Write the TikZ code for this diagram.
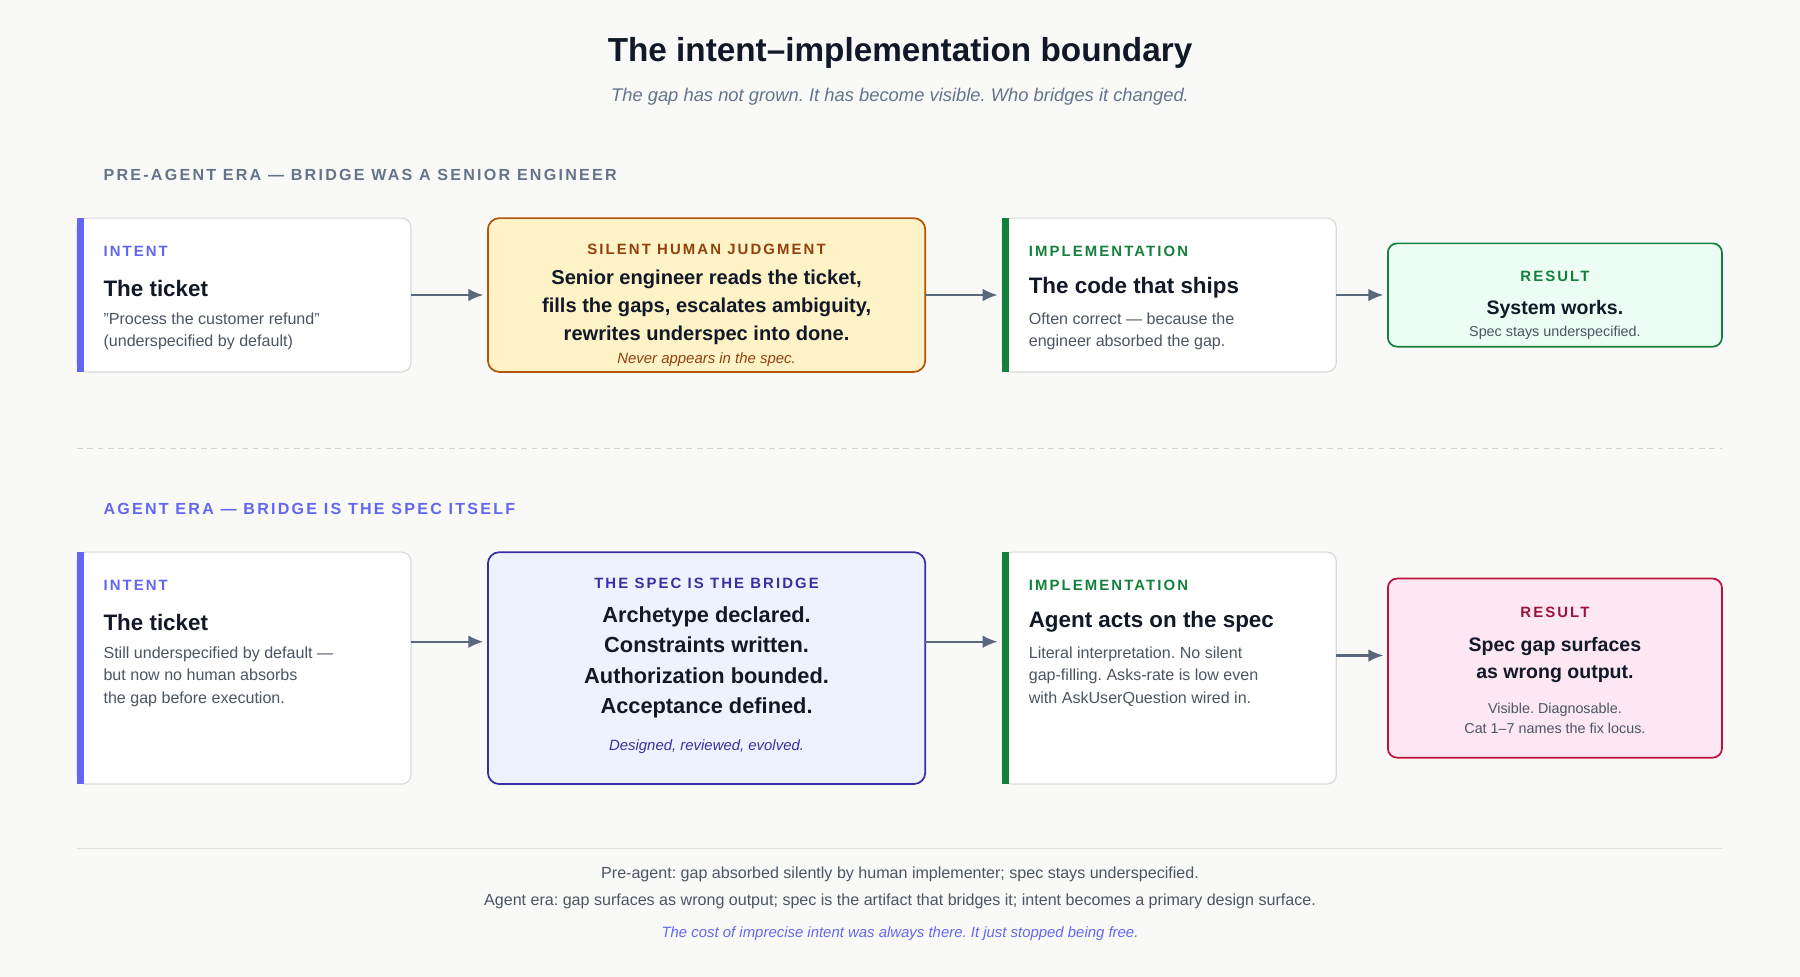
\documentclass[tikz,border=0pt]{standalone}
\usepackage{fontspec}
\setmainfont{Liberation Sans}
\newfontfamily\capsfont[LetterSpace=14]{Liberation Sans}
\usetikzlibrary{arrows.meta,positioning}
\definecolor{bgc}{HTML}{F9FAF7}
\definecolor{ink}{HTML}{111827}
\definecolor{muted}{HTML}{4B5563}
\definecolor{slate}{HTML}{64748B}
\definecolor{violet}{HTML}{6366F1}
\definecolor{navy}{HTML}{3730A3}
\definecolor{grn}{HTML}{15803D}
\definecolor{amber}{HTML}{92400E}
\definecolor{ambline}{HTML}{B45309}
\definecolor{ambfill}{HTML}{FEF3C7}
\definecolor{spfill}{HTML}{EEF2FF}
\definecolor{okfill}{HTML}{ECFDF3}
\definecolor{badfill}{HTML}{FCE7F3}
\definecolor{bad}{HTML}{BE123C}
\definecolor{badtxt}{HTML}{9F1239}
\newcommand{\fs}[1]{\fontsize{#1pt}{\dimexpr #1pt*14/10\relax}\selectfont}
\frenchspacing
\tikzset{
  card/.style={draw=gray!30, line width=1pt, fill=white, rounded corners=8pt},
  tag/.style={anchor=west, inner sep=0pt, font=\capsfont\bfseries\fs{13}},
  head/.style={anchor=west, inner sep=0pt, font=\bfseries\fs{19.5}, text=ink},
  body/.style={anchor=north west, inner sep=0pt, align=left, font=\fs{14}, text=muted},
  flow/.style={-{Latex[length=13pt,width=11pt]}, draw=slate!90!black, line width=1.8pt}
}
\begin{document}
\begin{tikzpicture}[x=1pt,y=-1pt]
\useasboundingbox[fill=bgc] (0,0) rectangle (1568,851);

% Title
\node[font=\bfseries\fs{29}, text=ink] (title) at (784,46) {The intent–implementation boundary};
\node[font=\itshape\fs{16}, text=slate] (subtitle) at (784,84) {The gap has not grown. It has become visible. Who bridges it changed.};

% Pre-agent era
\node[tag, text=slate, font=\capsfont\bfseries\fs{14}] (era1) at (90,152) {PRE-AGENT ERA — BRIDGE WAS A SENIOR ENGINEER};

\draw[card] (67,190) rectangle (358,324);
\fill[violet] (67,190) rectangle (73,324);
\coordinate (int1) at (358,257);
\node[tag, text=violet] (int1tag) at (90,219) {INTENT};
\node[head] (int1head) at (90,251) {The ticket};
\node[body] (int1body) at (90,272) {"Process the customer refund"\\(underspecified by default)};

\draw[draw=ambline, fill=ambfill, line width=1.5pt, rounded corners=10pt] (425,190) rectangle (806,324);
\coordinate (sil) at (425,257);
\coordinate (silR) at (806,257);
\node[tag, anchor=center, text=amber] (siltag) at (615.5,217) {SILENT HUMAN JUDGMENT};
\node[font=\bfseries\fs{17.5}, text=ink, align=center, inner sep=0pt] (silbody) at (615.5,268) {Senior engineer reads the ticket,\\fills the gaps, escalates ambiguity,\\rewrites underspec into done.};
\node[font=\itshape\fs{13}, text=amber] (silnote) at (615.5,313) {Never appears in the spec.};

\draw[card] (873,190) rectangle (1164,324);
\fill[grn] (873,190) rectangle (879,324);
\coordinate (imp1) at (873,257);
\coordinate (imp1R) at (1164,257);
\node[tag, text=grn] (imp1tag) at (896,219) {IMPLEMENTATION};
\node[head] (imp1head) at (896,251) {The code that ships};
\node[body] (imp1body) at (896,272) {Often correct — because the\\engineer absorbed the gap.};

\draw[draw=grn, fill=okfill, line width=1.5pt, rounded corners=8pt] (1209,212) rectangle (1500,302);
\coordinate (res1) at (1209,257);
\node[tag, anchor=center, text=grn] (res1tag) at (1354.5,241) {RESULT};
\node[font=\bfseries\fs{17}, text=ink] (res1head) at (1354.5,270) {System works.};
\node[font=\fs{12.5}, text=muted] (res1body) at (1354.5,290) {Spec stays underspecified.};

\draw[flow] (int1) -- ([xshift=-4pt]sil);
\draw[flow] (silR) -- ([xshift=-4pt]imp1);
\draw[flow] (imp1R) -- ([xshift=-4pt]res1);

% Divider
\draw[gray!35, line width=1pt, dash pattern=on 5pt off 4pt] (67,391) -- (1500,391);

% Agent era
\node[tag, text=violet, font=\capsfont\bfseries\fs{14}] (era2) at (90,443) {AGENT ERA — BRIDGE IS THE SPEC ITSELF};

\draw[card] (67,481) rectangle (358,683);
\fill[violet] (67,481) rectangle (73,683);
\coordinate (int2) at (358,559);
\node[tag, text=violet] (int2tag) at (90,510) {INTENT};
\node[head] (int2head) at (90,542) {The ticket};
\node[body] (int2body) at (90,563) {Still underspecified by default —\\but now no human absorbs\\the gap before execution.};

\draw[draw=navy, fill=spfill, line width=1.5pt, rounded corners=10pt] (425,481) rectangle (806,683);
\coordinate (spec) at (425,559);
\coordinate (specR) at (806,559);
\node[tag, anchor=center, text=navy] (spectag) at (615.5,508) {THE SPEC IS THE BRIDGE};
\node[font=\bfseries\fs{19}, text=ink, align=center, inner sep=0pt] (specbody) at (615.5,577) {Archetype declared.\\Constraints written.\\Authorization bounded.\\Acceptance defined.};
\node[font=\itshape\fs{13}, text=navy] (specnote) at (615.5,650) {Designed, reviewed, evolved.};

\draw[card] (873,481) rectangle (1164,683);
\fill[grn] (873,481) rectangle (879,683);
\coordinate (imp2) at (873,559);
\coordinate (imp2R) at (1164,571);
\node[tag, text=grn] (imp2tag) at (896,510) {IMPLEMENTATION};
\node[head] (imp2head) at (896,542) {Agent acts on the spec};
\node[body] (imp2body) at (896,563) {Literal interpretation. No silent\\gap-filling. Asks-rate is low even\\with AskUserQuestion wired in.};

\draw[draw=bad, fill=badfill, line width=1.5pt, rounded corners=8pt] (1209,504) rectangle (1500,660);
\coordinate (res2) at (1209,571);
\node[tag, anchor=center, text=badtxt] (res2tag) at (1354.5,533) {RESULT};
\node[font=\bfseries\fs{17}, text=ink, align=center, inner sep=0pt] (res2head) at (1354.5,575) {Spec gap surfaces\\as wrong output.};
\node[font=\fs{12.5}, text=muted, align=center, inner sep=0pt] (res2body) at (1354.5,626) {Visible. Diagnosable.\\Cat 1–7 names the fix locus.};

\draw[flow] (int2) -- ([xshift=-4pt]spec);
\draw[flow] (specR) -- ([xshift=-4pt]imp2);
\draw[flow] (imp2R) -- ([xshift=-4pt]res2);

% Footer
\draw[gray!25, line width=1pt] (67,739) -- (1500,739);
\node[font=\fs{14}, text=muted] (foot1) at (784,762) {Pre-agent: gap absorbed silently by human implementer; spec stays underspecified.};
\node[font=\fs{14}, text=muted] (foot2) at (784,785) {Agent era: gap surfaces as wrong output; spec is the artifact that bridges it; intent becomes a primary design surface.};
\node[font=\itshape\fs{13}, text=violet] (foot3) at (784,813) {The cost of imprecise intent was always there. It just stopped being free.};
\end{tikzpicture}
\end{document}
